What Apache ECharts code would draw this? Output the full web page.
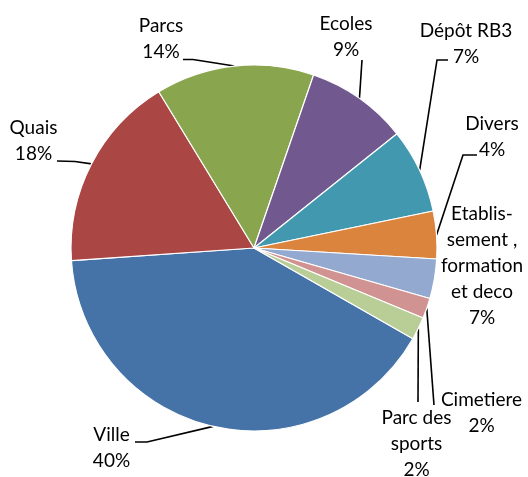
<!DOCTYPE html>
<html><head><meta charset="utf-8">
<script src="https://cdn.jsdelivr.net/npm/echarts@6/dist/echarts.min.js"></script>
<style>html,body{margin:0;padding:0;background:#fff}#c{width:528px;height:477px}</style>
</head><body><div id="c"></div>
<script>
// ---- data ----
const categories = ['Ville', 'Quais', 'Parcs', 'Ecoles', 'Dépôt RB3', 'Divers',
  'Etablis-\nsement ,\nformation\net deco', 'Cimetiere', 'Parc des\nsports'];
const values = [40.7, 17.4, 14.0, 9.0, 7.5, 4.2, 3.5, 1.8, 2.0];
const percentLabels = ['40%', '18%', '14%', '9%', '7%', '4%', '7%', '2%', '2%'];

// ---- styles / layout ----
const colors = ['#4572A7', '#AA4643', '#89A54E', '#71588F', '#4198AF', '#DB843D', '#93A9CF', '#D19392', '#B9CD96'];
const labelCenters = [[111.5, 447.5], [33.5, 141.3], [161, 38.5], [346, 37], [466, 43.6], [492, 136.7], [482, 265.5], [481.5, 413], [416.5, 444]];
const labelElbows = [
  [[147, 442], [135, 442]],
  [[75, 161.5], [57, 161]],
  [[193, 59.5], [183, 59.5]],
  [[362, 60]],
  [[437, 60], [448, 60]],
  [[463, 155], [477, 155]],
  null,
  [[434, 405]],
  [[418, 402]]
];

const chart = echarts.init(document.getElementById('c'), null, {renderer: 'canvas'});
chart.setOption({
  backgroundColor: '#fff',
  animation: false,
  color: colors,
  series: [{
    type: 'pie',
    center: [254, 248],
    radius: 183,
    startAngle: -29.7,
    clockwise: true,
    avoidLabelOverlap: false,
    itemStyle: {borderColor: '#fff', borderWidth: 1.2},
    label: {
      show: true,
      position: 'outside',
      color: '#000',
      fontFamily: 'Lato',
      fontSize: 19,
      lineHeight: 26,
      width: 130,
      overflow: 'none',
      align: 'center',
      formatter: p => categories[p.dataIndex] + '\n' + percentLabels[p.dataIndex]
    },
    labelLine: {show: true, lineStyle: {color: '#000', width: 1.6}},
    labelLayout: function (params) {
      const i = params.dataIndex;
      const c = labelCenters[i];
      const res = {x: c[0], y: c[1], align: 'center', verticalAlign: 'middle'};
      if (labelElbows[i] && params.labelLinePoints) {
        res.labelLinePoints = [params.labelLinePoints[0]].concat(labelElbows[i]);
      }
      return res;
    },
    data: categories.map((n, i) => ({
      name: n,
      value: values[i],
      labelLine: {show: labelElbows[i] != null}
    }))
  }]
});
</script></body></html>
